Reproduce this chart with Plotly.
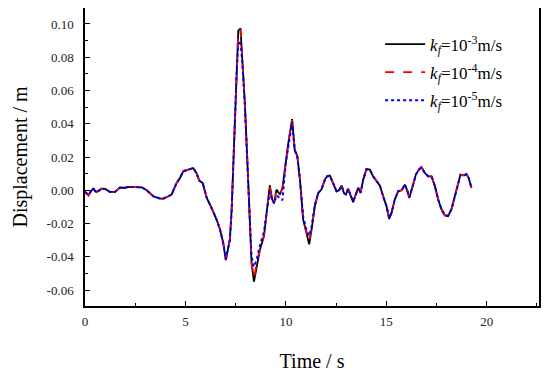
import plotly.graph_objects as go

time_s = [0.00, 0.17, 0.33, 0.41, 0.55, 0.66, 0.83, 1.00, 1.24, 1.49, 1.74, 1.99, 2.16, 2.49, 2.82,
          3.07, 3.40, 3.73, 3.90, 4.15, 4.31, 4.56, 4.73, 4.89, 5.14, 5.39, 5.56, 5.69, 5.86, 6.06,
          6.30, 6.55, 6.72, 6.88, 7.01, 7.21, 7.30, 7.38, 7.46, 7.55, 7.63, 7.74, 7.84, 7.96, 8.08,
          8.18, 8.29, 8.41, 8.54, 8.71, 8.91, 9.04, 9.20, 9.32, 9.42, 9.53, 9.70, 9.83, 9.98, 10.12,
          10.31, 10.44, 10.57, 10.70, 10.86, 11.03, 11.16, 11.28, 11.44, 11.61, 11.77, 11.94, 12.05, 12.19, 12.35,
          12.52, 12.65, 12.77, 12.89, 12.99, 13.10, 13.22, 13.35, 13.48, 13.60, 13.72, 13.85, 14.01, 14.18, 14.34,
          14.51, 14.68, 14.84, 15.01, 15.14, 15.26, 15.42, 15.59, 15.76, 15.92, 16.04, 16.14, 16.31, 16.47, 16.62,
          16.75, 16.92, 17.08, 17.25, 17.42, 17.58, 17.75, 17.91, 18.07, 18.24, 18.41, 18.57, 18.69, 18.86, 18.99,
          19.10, 19.24]

disp_k3 = [-0.0010, -0.0030, 0.0000, 0.0010, -0.0010, -0.0005, 0.0010, 0.0008, -0.0010, -0.0010, 0.0016, 0.0015, 0.0020, 0.0020, 0.0018,
           0.0000, -0.0036, -0.0050, -0.0050, -0.0036, -0.0026, 0.0044, 0.0074, 0.0114, 0.0124, 0.0134, 0.0100, 0.0058, 0.0044, -0.0046,
           -0.0106, -0.0176, -0.0236, -0.0316, -0.0420, -0.0296, -0.0116, 0.0164, 0.0484, 0.0784, 0.0960, 0.0974, 0.0780, 0.0520, 0.0180,
           -0.0160, -0.0436, -0.0550, -0.0456, -0.0356, -0.0276, -0.0136, 0.0030, -0.0056, -0.0076, 0.0004, -0.0026, 0.0014, 0.0170, 0.0284,
           0.0428, 0.0244, 0.0204, 0.0064, -0.0176, -0.0256, -0.0325, -0.0236, -0.0096, -0.0016, 0.0004, 0.0064, 0.0084, 0.0088, 0.0044,
           -0.0006, 0.0000, 0.0028, -0.0016, -0.0026, 0.0008, -0.0026, -0.0072, -0.0026, 0.0014, -0.0016, 0.0064, 0.0128, 0.0124, 0.0084,
           0.0054, 0.0028, -0.0036, -0.0096, -0.0172, -0.0136, -0.0056, -0.0006, 0.0000, 0.0034, 0.0000, -0.0046, 0.0024, 0.0094, 0.0124,
           0.0140, 0.0104, 0.0084, 0.0084, 0.0024, -0.0056, -0.0116, -0.0152, -0.0156, -0.0116, -0.0036, 0.0044, 0.0094, 0.0090, 0.0098,
           0.0074, 0.0014]

disp_k4 = [-0.0010, -0.0032, 0.0000, 0.0008, -0.0010, -0.0005, 0.0010, 0.0008, -0.0012, -0.0010, 0.0016, 0.0015, 0.0020, 0.0020, 0.0018,
           0.0000, -0.0036, -0.0050, -0.0050, -0.0036, -0.0026, 0.0044, 0.0074, 0.0114, 0.0124, 0.0134, 0.0100, 0.0058, 0.0044, -0.0046,
           -0.0106, -0.0176, -0.0236, -0.0316, -0.0420, -0.0296, -0.0116, 0.0164, 0.0484, 0.0784, 0.0955, 0.0968, 0.0780, 0.0520, 0.0180,
           -0.0160, -0.0430, -0.0525, -0.0450, -0.0350, -0.0270, -0.0136, 0.0020, -0.0056, -0.0076, 0.0000, -0.0020, 0.0010, 0.0170, 0.0284,
           0.0422, 0.0244, 0.0204, 0.0064, -0.0176, -0.0250, -0.0305, -0.0230, -0.0096, -0.0016, 0.0004, 0.0064, 0.0084, 0.0088, 0.0044,
           -0.0006, 0.0000, 0.0028, -0.0016, -0.0026, 0.0008, -0.0026, -0.0070, -0.0026, 0.0014, -0.0016, 0.0064, 0.0128, 0.0124, 0.0084,
           0.0054, 0.0028, -0.0036, -0.0096, -0.0168, -0.0136, -0.0056, -0.0006, 0.0000, 0.0034, 0.0000, -0.0044, 0.0024, 0.0094, 0.0124,
           0.0138, 0.0104, 0.0084, 0.0084, 0.0024, -0.0056, -0.0116, -0.0150, -0.0154, -0.0116, -0.0036, 0.0044, 0.0092, 0.0090, 0.0096,
           0.0074, 0.0014]

disp_k5 = [-0.0010, -0.0025, 0.0000, 0.0010, -0.0010, -0.0005, 0.0010, 0.0008, -0.0010, -0.0010, 0.0016, 0.0015, 0.0020, 0.0020, 0.0018,
           0.0000, -0.0036, -0.0050, -0.0050, -0.0036, -0.0026, 0.0044, 0.0074, 0.0114, 0.0124, 0.0134, 0.0100, 0.0058, 0.0044, -0.0046,
           -0.0106, -0.0176, -0.0236, -0.0316, -0.0415, -0.0300, -0.0130, 0.0140, 0.0450, 0.0720, 0.0880, 0.0900, 0.0750, 0.0500, 0.0170,
           -0.0150, -0.0400, -0.0460, -0.0420, -0.0330, -0.0250, -0.0130, -0.0010, -0.0060, -0.0080, -0.0030, -0.0050, -0.0060, 0.0150, 0.0270,
           0.0410, 0.0240, 0.0200, 0.0064, -0.0160, -0.0240, -0.0275, -0.0220, -0.0090, -0.0016, 0.0004, 0.0064, 0.0084, 0.0088, 0.0044,
           -0.0006, 0.0000, 0.0028, -0.0016, -0.0026, 0.0008, -0.0026, -0.0068, -0.0026, 0.0014, -0.0016, 0.0064, 0.0126, 0.0124, 0.0084,
           0.0054, 0.0028, -0.0036, -0.0096, -0.0165, -0.0136, -0.0056, -0.0006, 0.0000, 0.0034, 0.0000, -0.0042, 0.0024, 0.0094, 0.0124,
           0.0136, 0.0104, 0.0084, 0.0084, 0.0024, -0.0056, -0.0116, -0.0148, -0.0152, -0.0116, -0.0036, 0.0044, 0.0090, 0.0090, 0.0095,
           0.0074, 0.0014]

series_names = ["<i>k</i><sub><i>f</i></sub>=10<sup>-3</sup>m/s",
                "<i>k</i><sub><i>f</i></sub>=10<sup>-4</sup>m/s",
                "<i>k</i><sub><i>f</i></sub>=10<sup>-5</sup>m/s"]

x_ticks = [0, 5, 10, 15, 20]
y_ticks = [-0.06, -0.04, -0.02, 0.00, 0.02, 0.04, 0.06, 0.08, 0.10]
y_tick_labels = ["-0.06", "-0.04", "-0.02", "0.00", "0.02", "0.04", "0.06", "0.08", "0.10"]

font_family = "Liberation Serif"

fig = go.Figure()
fig.add_trace(go.Scatter(x=time_s, y=disp_k3, mode="lines", name=series_names[0], legendgroup="a",
                         line=dict(color="black", width=1.8)))
fig.add_trace(go.Scatter(x=time_s, y=disp_k4, mode="lines", name=series_names[1], legendgroup="b",
                         line=dict(color="#ff0000", width=1.8, dash="dash")))
fig.add_trace(go.Scatter(x=time_s, y=disp_k5, mode="lines", name=series_names[2], legendgroup="c",
                         line=dict(color="#0000ff", width=2, dash="dot")))

axis_common = dict(showline=True, linecolor="black", linewidth=1.5, mirror=True,
                   ticks="inside", ticklen=5, tickwidth=1, tickcolor="black",
                   showgrid=False, zeroline=False, automargin=False,
                   tickfont=dict(family=font_family, size=13, color="#222"))

# the page body adds an 8px offset, so the figure is sized to the visible area
fig.update_layout(
    width=542, height=364,
    margin=dict(l=77, r=11, t=0, b=66),
    paper_bgcolor="white", plot_bgcolor="white",
    font=dict(family=font_family, color="black"),
    showlegend=True,
    legend=dict(x=0.650, y=0.938, xanchor="left", yanchor="top",
                bgcolor="rgba(0,0,0,0)", font=dict(family=font_family, size=17),
                tracegroupgap=3, itemwidth=40),
    xaxis=dict(range=[0, 22.6], tickvals=x_ticks, ticklabelstandoff=3,
               minor=dict(ticks="inside", ticklen=3, tickcolor="black", dtick=2.5, showgrid=False),
               title=dict(text="Time / s", font=dict(family=font_family, size=20), standoff=26),
               **axis_common),
    yaxis=dict(range=[-0.0696, 0.1096], tickvals=y_ticks, ticktext=y_tick_labels, ticklabelstandoff=7,
               minor=dict(ticks="inside", ticklen=3, tickcolor="black", dtick=0.01, showgrid=False),
               title=dict(text="Displacement / m", font=dict(family=font_family, size=20), standoff=14),
               **axis_common),
)

fig.write_html("out.html")
